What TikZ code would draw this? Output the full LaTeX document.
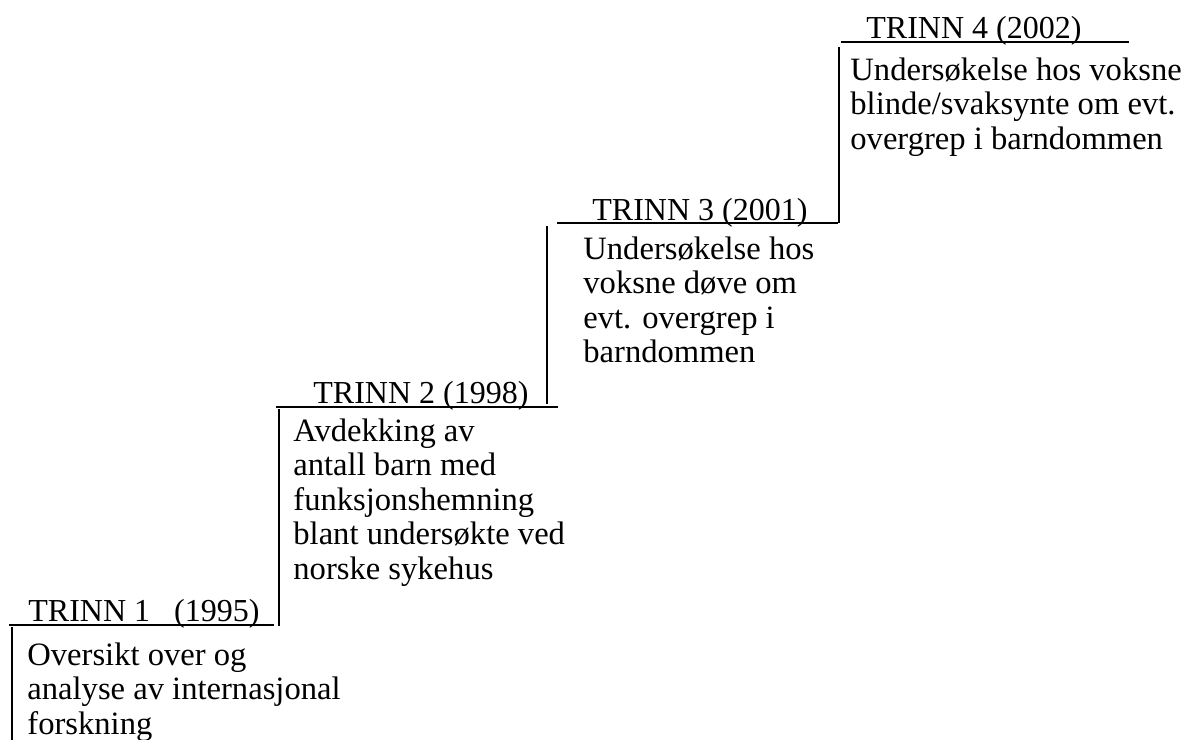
\documentclass[tikz,border=0pt]{standalone}
\usepackage{fontspec}
\setmainfont{Liberation Serif}
\begin{document}
\begin{tikzpicture}[x=0.5pt,y=-0.5pt,
  stair/.style={line width=1pt,line cap=rect},
  title/.style={anchor=base west,inner sep=0pt,font=\fontsize{16}{17}\selectfont},
  body/.style={anchor=north west,inner sep=0pt,align=left,font=\fontsize{16.3}{17.3}\selectfont}]
\useasboundingbox (0,0) rectangle (1198,739);
% staircase
\coordinate (s1b) at (12,739);
\coordinate (s1a) at (12,628);
\draw[stair] (s1b) -- (s1a);
\draw[stair] (10,625) -- (273,625);
\draw[stair] (279,625) -- (279,410);
\draw[stair] (277,407) -- (557,407);
\draw[stair] (547,403) -- (547,227);
\draw[stair] (558,223) -- (837,223);
\draw[stair] (839,222) -- (839,48);
\draw[stair] (842,42) -- (1128,42);
% titles
\node[title] (t1) at (28,621) {TRINN 1\ \ \ (1995)};
\node[title] (t2) at (313,403) {TRINN 2 (1998)};
\node[title] (t3) at (592,220) {TRINN 3 (2001)};
\node[title] (t4) at (866,39) {TRINN 4 (2002)};
% bodies
\node[body] (b1) at (27,642) {Oversikt over og\\analyse av internasjonal\\forskning};
\node[body] (b2) at (293,418) {Avdekking av\\antall barn med\\funksjonshemning\\blant undersøkte ved\\norske sykehus};
\node[body] (b3) at (583,236) {Undersøkelse hos\\voksne døve om\\evt. overgrep i\\barndommen};
\node[body] (b4) at (850,57) {Undersøkelse hos voksne\\blinde/svaksynte om evt.\\overgrep i barndommen};
\end{tikzpicture}
\end{document}
